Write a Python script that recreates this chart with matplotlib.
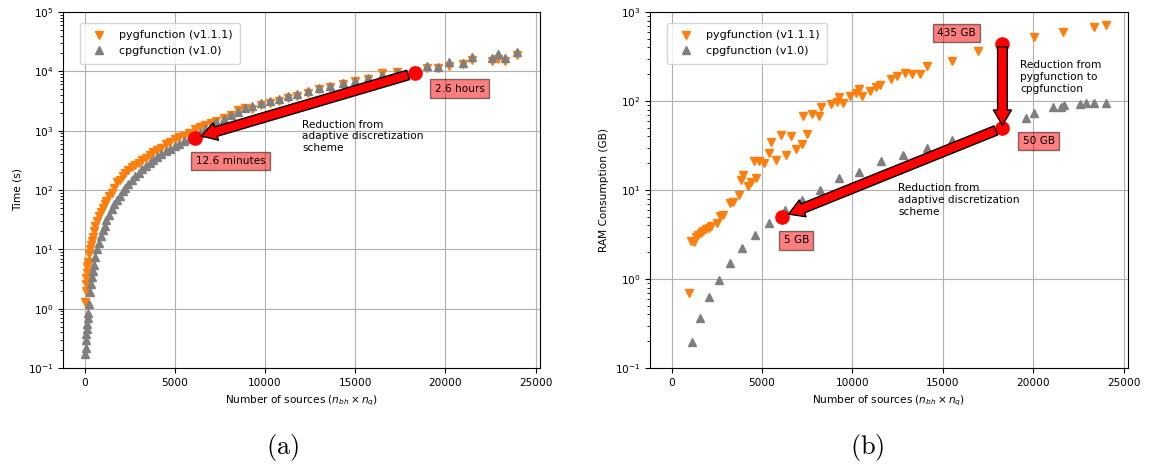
import numpy as np
import matplotlib.pyplot as plt

plt.rcParams['font.size'] = 7.6
plt.rcParams['mathtext.fontset'] = 'dejavusans'

# Left panel: computation time vs number of sources
n_time = [25, 50, 75, 100, 125, 150, 175, 200, 250, 300, 350, 400, 450, 500,
          600, 700, 800, 900, 1000, 1100, 1200, 1350, 1500, 1650, 1800, 1950,
          2100, 2250, 2400, 2600, 2800, 3000, 3200, 3400, 3600, 3800, 4000,
          4250, 4500, 4750, 5000, 5250, 5500, 5800, 6100, 6400, 6700, 7000,
          7300, 7700, 8100, 8500, 8900, 9300, 9800, 10300, 10800, 11300,
          11800, 12400, 13000, 13600, 14300, 15000, 15700, 16500, 17300,
          18300, 19000, 19600, 20200, 21000, 21500, 22600, 22900, 23300, 24000]
t_pyg = [1.3, 2.0, 2.6, 3.3, 4.0, 5.0, 5.5, 6.2, 8.5, 10, 12, 14, 16, 20,
         25, 30, 36, 42, 50, 58, 65, 78, 90, 110, 135, 150,
         170, 190, 215, 240, 260, 280, 320, 350, 390, 430, 470,
         520, 590, 650, 720, 780, 820, 900, 1050, 1150, 1250, 1350,
         1450, 1650, 1850, 2200, 2400, 2300, 2700, 2900, 3200, 3500,
         3900, 4300, 5000, 5400, 6200, 6800, 7500, 9300, 9600,
         10000, 11500, 11500, 12500, 13500, 15500, 15000, 16000, 15000, 19000]
t_cpg = [0.17, 0.22, 0.30, 0.38, 0.45, 0.55, 0.70, 0.85, 1.2, 1.9, 2.6, 3.4, 4.3, 5.4,
         7.5, 10, 13, 17, 21, 25, 31, 38, 48, 58, 68, 80,
         95, 110, 125, 145, 170, 195, 225, 255, 285, 320, 360,
         400, 450, 500, 550, 600, 660, 730, 800, 900, 1050, 1200,
         1400, 1600, 1850, 2100, 2400, 2600, 2900, 3100, 3400, 3800,
         4200, 4700, 5200, 5600, 6300, 7000, 7800, 8700, 9600,
         10500, 12500, 12000, 14500, 14000, 17500, 16500, 19500, 17000, 21000]

# Right panel: RAM consumption
n_ram_pyg = [940, 1070, 1215, 1340, 1480, 1620, 1760, 1900, 2040, 2170, 2500,
             2670, 2820, 3240, 3370, 3740, 3830, 3920, 4200, 4380, 4560, 4660,
             4840, 5120, 5390, 5490, 5760, 6040, 6310, 6590, 6900, 7200, 7240,
             7510, 7790, 8150, 8250, 8800, 9130, 9260, 9480, 9850, 10180, 10360,
             10550, 10960, 11290, 11510, 12120, 12490, 12890, 13310, 13740,
             14140, 15520, 16960, 20030, 21660, 23390, 24050]
ram_pyg = [0.69, 2.7, 2.6, 3.0, 3.15, 3.3, 3.45, 3.6, 3.75, 3.9, 4.3,
           5.1, 5.2, 7.1, 7.4, 8.8, 13, 14.8, 11, 12.4, 21, 13.5,
           21, 20, 26, 35, 22, 42, 25, 40, 29, 33, 67,
           43, 71, 68, 85, 92.5, 98, 110, 94, 114, 122, 135,
           114, 131, 143, 151, 175, 191, 208, 201, 201,
           249, 281, 367, 519, 601, 673, 714]
n_ram_cpg = [1120, 1560, 2040, 2600, 3200, 3870, 4620, 5410, 6260, 7200, 8210,
             9260, 10360, 11560, 12820, 14140, 15520, 19630, 20030, 21080,
             21550, 21690, 22570, 22930, 23390, 24050]
ram_cpg = [0.198, 0.36, 0.62, 0.975, 1.52, 2.25, 3.1, 4.3, 5.95, 7.7, 10,
           13.5, 16, 21, 25, 30, 36.5, 64, 73, 85,
           86, 90, 92, 94, 94, 94]

# Highlighted cases
n_big, n_small = 18300, 6100
t_big, t_small = 9360, 756
ram_big_pyg, ram_big_cpg, ram_small_cpg = 435, 50, 5

orange = '#ff7f0e'
gray = '#7f7f7f'
box = dict(facecolor='red', alpha=0.5, edgecolor='black', boxstyle='square,pad=0.4')
arrow = dict(facecolor='red', edgecolor='black', width=7, headwidth=13,
             headlength=11, shrink=0.03)

fig = plt.figure(figsize=(11.5, 4.68), dpi=100)
ax1 = fig.add_axes([0.0548, 0.2137, 0.4148, 0.7607])
ax2 = fig.add_axes([0.5652, 0.2137, 0.4157, 0.7607])

### (a) time
ax1.plot(n_time, t_pyg, 'v', color=orange, ms=5.5, label='pygfunction (v1.1.1)')
ax1.plot(n_time, t_cpg, '^', color=gray, ms=5.5, label='cpgfunction (v1.0)')
ax1.annotate('', xy=(n_small, t_small), xytext=(n_big, t_big), arrowprops=arrow)
ax1.plot([n_big, n_small], [t_big, t_small], 'o', color='red', ms=9.5, ls='none')
ax1.text(19400, 5100, '2.6 hours', ha='left', va='center', bbox=box)
ax1.text(6150, 310, '12.6 minutes', ha='left', va='center', bbox=box)
ax1.text(12050, 800, 'Reduction from\nadaptive discretization\nscheme',
         ha='left', va='center')
ax1.set_yscale('log')
ax1.set_ylim(1e-1, 1e5)
ax1.set_ylabel('Time (s)')

### (b) RAM
ax2.plot(n_ram_pyg, ram_pyg, 'v', color=orange, ms=5.5, label='pygfunction (v1.1.1)')
ax2.plot(n_ram_cpg, ram_cpg, '^', color=gray, ms=5.5, label='cpgfunction (v1.0)')
ax2.annotate('', xy=(n_big, ram_big_cpg), xytext=(n_big, ram_big_pyg), arrowprops=arrow)
ax2.annotate('', xy=(n_small, ram_small_cpg), xytext=(n_big, ram_big_cpg), arrowprops=arrow)
ax2.plot([n_big, n_big, n_small], [ram_big_pyg, ram_big_cpg, ram_small_cpg],
         'o', color='red', ms=9.5, ls='none')
ax2.text(15760, 580, '435 GB', ha='center', va='center', bbox=box)
ax2.text(20300, 35.5, '50 GB', ha='center', va='center', bbox=box)
ax2.text(6890, 2.71, '5 GB', ha='center', va='center', bbox=box)
ax2.text(19300, 186, 'Reduction from\npygfunction to\ncpgfunction', ha='left', va='center')
ax2.text(12540, 7.7, 'Reduction from\nadaptive discretization\nscheme', ha='left', va='center')
ax2.set_yscale('log')
ax2.set_ylim(1e-1, 1e3)
ax2.set_ylabel('RAM Consumption (GB)')

for ax in (ax1, ax2):
    ax.set_xlim(-1200, 25250)
    ax.set_xticks([0, 5000, 10000, 15000, 20000, 25000])
    ax.set_xlabel(r'Number of sources ($n_{bh} \times n_q$)')
    ax.grid(True, color='#b0b0b0', lw=0.8)
    ax.set_axisbelow(True)
    ax.legend(loc='upper left', bbox_to_anchor=(0.035, 0.97), borderaxespad=0,
              fontsize=8, borderpad=0.7, labelspacing=0.5)

fig.text(0.246, 0.043, r'$\mathrm{(a)}$', ha='center', va='center', fontsize=19,
         math_fontfamily='cm')
fig.text(0.754, 0.043, r'$\mathrm{(b)}$', ha='center', va='center', fontsize=19,
         math_fontfamily='cm')

fig.savefig('out.png', dpi=100)
